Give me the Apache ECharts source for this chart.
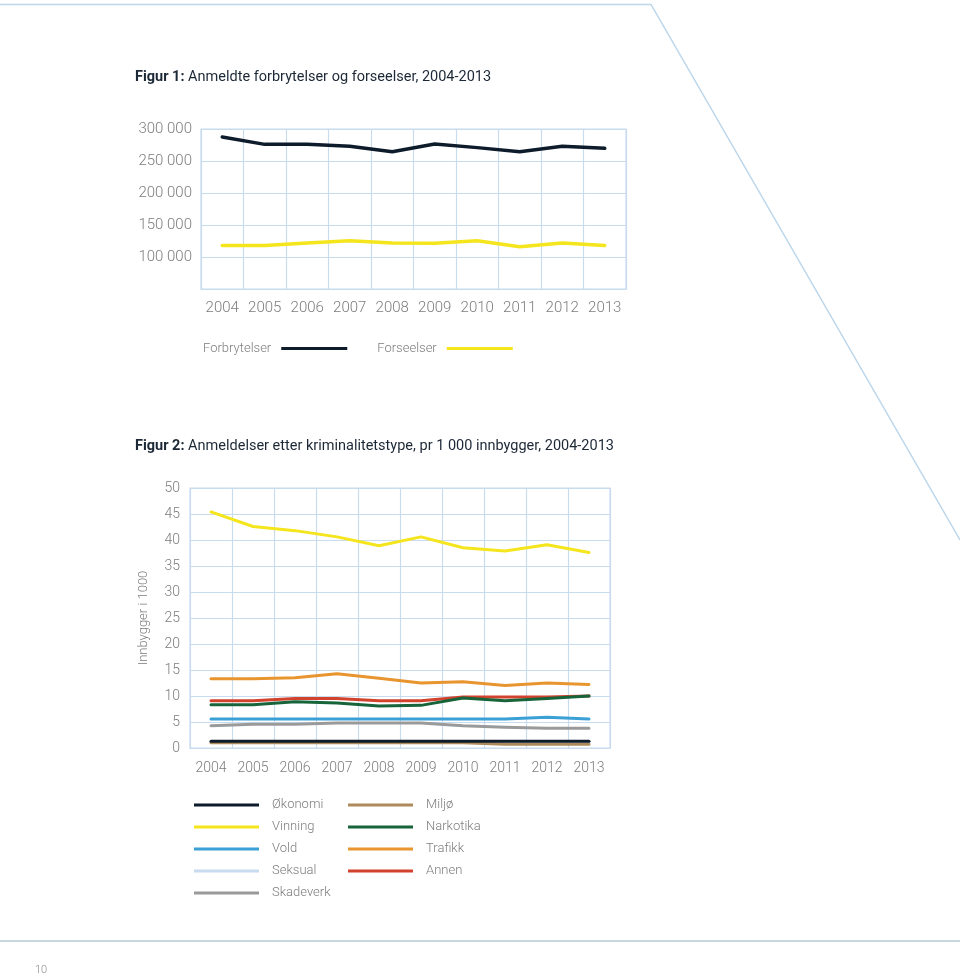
<!DOCTYPE html>
<html>
<head>
<meta charset="utf-8">
<script src="https://cdn.jsdelivr.net/npm/echarts@6/dist/echarts.min.js"></script>
<style>
html,body{margin:0;padding:0;background:#fff;}
#c{width:960px;height:976px;}
</style>
</head>
<body>
<div id="c"></div>
<script>
// ---- Data ----
const years = ['2004','2005','2006','2007','2008','2009','2010','2011','2012','2013'];
// Figur 1
const forbrytelser = [287500, 276000, 276000, 272900, 264600, 276600, 270900, 264600, 272900, 269800];
const forseelser   = [118000, 118000, 122000, 125500, 122000, 121500, 125500, 116000, 122000, 118000];
// Figur 2 (per 1 000 innbyggere)
const okonomi   = [1.3, 1.3, 1.3, 1.3, 1.3, 1.3, 1.3, 1.3, 1.3, 1.3];
const vinning   = [45.4, 42.6, 41.8, 40.6, 38.9, 40.6, 38.5, 37.9, 39.1, 37.6];
const vold      = [5.6, 5.6, 5.6, 5.6, 5.6, 5.6, 5.6, 5.6, 5.9, 5.6];
const seksual   = [1.2, 1.2, 1.2, 1.2, 1.2, 1.2, 1.2, 1.2, 1.2, 1.2];
const skadeverk = [4.3, 4.55, 4.55, 4.8, 4.8, 4.8, 4.3, 4.0, 3.8, 3.8];
const miljo     = [1.0, 1.0, 1.0, 1.0, 1.0, 1.0, 1.0, 0.7, 0.7, 0.7];
const narkotika = [8.3, 8.3, 8.9, 8.65, 8.1, 8.2, 9.6, 9.1, 9.5, 10.0];
const trafikk   = [13.3, 13.3, 13.5, 14.3, 13.4, 12.5, 12.75, 12.0, 12.5, 12.2];
const annen     = [9.1, 9.1, 9.5, 9.5, 9.1, 9.1, 9.8, 9.8, 9.8, 10.0];
const y1Ticks = [50000, 100000, 150000, 200000, 250000, 300000];
const y2Ticks = [0, 5, 10, 15, 20, 25, 30, 35, 40, 45, 50];

// ---- Styles ----
const FONT = 'Roboto';
const GRIDC = '#c8dcee';
const LABC = '#7d7d7d';
const C = {
  forbrytelser:'#0d1b2a', forseelser:'#f4e51c',
  okonomi:'#0d1b2a', vinning:'#f4e51c', vold:'#3aa0d6', seksual:'#c9dcef',
  skadeverk:'#9a9a9a', miljo:'#ad8a5c', narkotika:'#17643a', trafikk:'#e8952f', annen:'#d2432e'
};

function fmtThousands(v){
  return String(v).replace(/\B(?=(\d{3})+(?!\d))/g, ' ');
}

function lineSeries(name, data, color, xi, yi, width){
  return {
    name, type:'line', data, xAxisIndex:xi, yAxisIndex:yi,
    symbol:'none', smooth:false, silent:true,
    lineStyle:{color, width:width||3, cap:'round', join:'round'},
    itemStyle:{color}
  };
}

const chart = echarts.init(document.getElementById('c'), null, {renderer:'canvas'});

const titleStyle = {fontFamily:FONT, fontSize:14.5, fontWeight:'normal', color:'#1c2836',
  rich:{b:{fontFamily:FONT, fontSize:14.5, fontWeight:'bold', color:'#1c2836'}}};

const option = {
  animation:false,
  backgroundColor:'#ffffff',
  textStyle:{fontFamily:FONT},
  title:[
    {left:130, top:65, text:'{b|Figur 1:} Anmeldte forbrytelser og forseelser, 2004-2013', textStyle:titleStyle},
    {left:130, top:434, text:'{b|Figur 2:} Anmeldelser etter kriminalitetstype, pr 1 000 innbygger, 2004-2013', textStyle:titleStyle}
  ],
  grid:[
    {left:201, top:129, width:425, height:160, show:true, borderColor:GRIDC, borderWidth:1.2, containLabel:false},
    {left:190, top:488, width:420, height:260, show:true, borderColor:GRIDC, borderWidth:1.2, containLabel:false}
  ],
  xAxis:[
    {type:'category', gridIndex:0, data:years, boundaryGap:true,
     axisLine:{show:true, lineStyle:{color:GRIDC, width:1.2}}, axisTick:{show:false},
     splitLine:{show:true, interval:0, lineStyle:{color:GRIDC, width:1.2}},
     axisLabel:{interval:0, color:LABC, fontSize:15, fontFamily:FONT, fontWeight:300, margin:12}},
    {type:'category', gridIndex:1, data:years, boundaryGap:true,
     axisLine:{show:true, lineStyle:{color:GRIDC, width:1.2}}, axisTick:{show:false},
     splitLine:{show:true, interval:0, lineStyle:{color:GRIDC, width:1.2}},
     axisLabel:{interval:0, color:LABC, fontSize:14, fontFamily:FONT, fontWeight:300, margin:13}}
  ],
  yAxis:[
    {type:'value', gridIndex:0, min:y1Ticks[0], max:y1Ticks[y1Ticks.length-1], interval:50000,
     axisLine:{show:false}, axisTick:{show:false},
     splitLine:{show:true, lineStyle:{color:GRIDC, width:1.2}},
     axisLabel:{color:LABC, fontSize:15, fontFamily:FONT, fontWeight:300, margin:9,
       formatter:v => v === y1Ticks[0] ? '' : fmtThousands(v)}},
    {type:'value', gridIndex:1, min:y2Ticks[0], max:y2Ticks[y2Ticks.length-1], interval:5,
     name:'Innbygger i 1000', nameLocation:'middle', nameGap:40, nameRotate:90,
     nameTextStyle:{color:LABC, fontSize:13, fontFamily:FONT, fontWeight:300},
     axisLine:{show:false}, axisTick:{show:false},
     splitLine:{show:true, lineStyle:{color:GRIDC, width:1.2}},
     axisLabel:{color:LABC, fontSize:14, fontFamily:FONT, fontWeight:300, margin:10}}
  ],
  legend:[
    {left:198, top:337, orient:'horizontal', align:'right', icon:'rect',
     itemWidth:66, itemHeight:3, itemGap:30, selectedMode:false,
     data:['Forbrytelser','Forseelser'],
     textStyle:{color:LABC, fontSize:13, fontFamily:FONT, fontWeight:300, padding:[0,5,0,0]}},
    {left:189, top:792, orient:'vertical', align:'left', icon:'rect',
     itemWidth:65, itemHeight:3, itemGap:6, selectedMode:false,
     data:['Økonomi','Vinning','Vold','Seksual','Skadeverk'],
     textStyle:{color:LABC, fontSize:13, fontFamily:FONT, fontWeight:300, lineHeight:16, padding:[0,0,0,8]}},
    {left:343, top:792, orient:'vertical', align:'left', icon:'rect',
     itemWidth:65, itemHeight:3, itemGap:6, selectedMode:false,
     data:['Miljø','Narkotika','Trafikk','Annen'],
     textStyle:{color:LABC, fontSize:13, fontFamily:FONT, fontWeight:300, lineHeight:16, padding:[0,0,0,8]}}
  ],
  series:[
    lineSeries('Forseelser', forseelser, C.forseelser, 0, 0, 3.5),
    lineSeries('Forbrytelser', forbrytelser, C.forbrytelser, 0, 0, 3.5),
    lineSeries('Seksual', seksual, C.seksual, 1, 1),
    lineSeries('Miljø', miljo, C.miljo, 1, 1),
    lineSeries('Økonomi', okonomi, C.okonomi, 1, 1),
    lineSeries('Skadeverk', skadeverk, C.skadeverk, 1, 1),
    lineSeries('Vold', vold, C.vold, 1, 1),
    lineSeries('Annen', annen, C.annen, 1, 1),
    lineSeries('Narkotika', narkotika, C.narkotika, 1, 1),
    lineSeries('Trafikk', trafikk, C.trafikk, 1, 1),
    lineSeries('Vinning', vinning, C.vinning, 1, 1)
  ],
  graphic:[
    {type:'polyline', silent:true, shape:{points:[[0,4.5],[651,4.5],[960,540]]},
     style:{stroke:'#bcd6ea', lineWidth:1.5, fill:null}},
    {type:'line', silent:true, shape:{x1:0, y1:941, x2:960, y2:941},
     style:{stroke:'#c9d7df', lineWidth:2}},
    {type:'text', silent:true, left:35, top:965,
     style:{text:'10', fill:'#8a8a8a', font:'300 11px Roboto'}}
  ]
};

chart.setOption(option);
</script>
</body>
</html>
